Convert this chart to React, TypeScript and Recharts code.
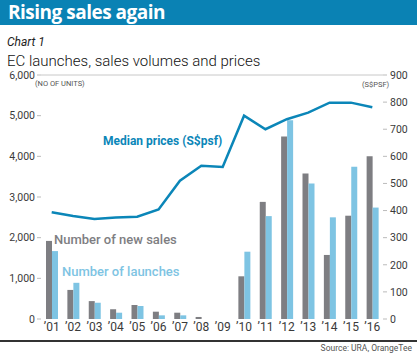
import React from "react"
import { ComposedChart, Bar, Line, XAxis, YAxis, ReferenceLine } from "recharts"

const years = ["’01", "’02", "’03", "’04", "’05", "’06", "’07", "’08", "’09", "’10", "’11", "’12", "’13", "’14", "’15", "’16"]
const newSales = [1920, 715, 440, 240, 345, 180, 155, 50, 0, 1050, 2880, 4490, 3580, 1575, 2540, 4000]
const launches = [1670, 890, 400, 155, 320, 90, 90, 0, 0, 1655, 2530, 4890, 3335, 2500, 3745, 2740]
const medianPrice = [394, 380, 369, 374, 377, 404, 510, 565, 561, 750, 700, 737, 761, 798, 798, 781]

const leftTicks = [0, 1000, 2000, 3000, 4000, 5000, 6000]
const rightTicks = [0, 100, 200, 300, 400, 500, 600, 700, 800, 900]

const data = years.map((y, i) => ({ year: y, sales: newSales[i], launches: launches[i], price: medianPrice[i] }))

const GRAY = "#7e7e82"
const LIGHT = "#7ec4e3"
const BLUE = "#0b86b8"
const FONT = "Roboto, 'Open Sans', sans-serif"

export default function App() {
  return (
    <div style={{ position: "absolute", left: 0, top: 0, width: 417, height: 354, background: "#fff", fontFamily: FONT, overflow: "hidden" }}>
      <div style={{ position: "absolute", left: 0, top: 0, width: 417, height: 25, background: "#0a82b4" }} />
      <div style={{ position: "absolute", left: 8, top: 0, height: 25, lineHeight: "25px", color: "#fff", fontSize: 19, fontWeight: 700, fontFamily: "'Open Sans', sans-serif", letterSpacing: -0.5 }}>Rising sales again</div>
      <div style={{ position: "absolute", left: 7, top: 35, fontSize: 12, lineHeight: "14px", fontStyle: "italic", color: "#222" }}>Chart 1</div>
      <div style={{ position: "absolute", left: 7, top: 54, fontSize: 15, lineHeight: "15px", fontWeight: 300, color: "#111" }}>EC launches, sales volumes and prices</div>

      <ComposedChart width={417} height={354} data={data} margin={{ top: 75, right: 0, bottom: 13, left: 0 }} barGap={0} style={{ position: "absolute", left: 0, top: 0 }}>
        <XAxis dataKey="year" axisLine={false} tickLine={false} tickSize={0} tickMargin={3} height={22} interval={0}
          tick={{ fontSize: 12, fill: "#3a3a3a", fontFamily: FONT }} />
        <YAxis yAxisId="left" orientation="left" width={41} domain={[0, 6000]} ticks={leftTicks} axisLine={false}
          tickLine={{ stroke: "#bbb" }} tickSize={4} tickMargin={2} interval={0}
          tickFormatter={(v: number) => v.toLocaleString("en-US")}
          tick={{ fontSize: 10.5, fill: "#3a3a3a", fontFamily: FONT }} />
        <YAxis yAxisId="right" orientation="right" width={34} domain={[0, 900]} ticks={rightTicks} axisLine={false}
          tickLine={{ stroke: "#bbb" }} tickSize={4} tickMargin={3} interval={0}
          tick={{ fontSize: 10.5, fill: "#3a3a3a", fontFamily: FONT, textAnchor: "start" }} />
        <ReferenceLine yAxisId="left" y={6000} stroke="#c8c8c8" strokeWidth={1} />
        <Bar yAxisId="left" dataKey="sales" fill={GRAY} barSize={6} isAnimationActive={false} />
        <Bar yAxisId="left" dataKey="launches" fill={LIGHT} barSize={6} isAnimationActive={false} />
        <Line yAxisId="right" dataKey="price" stroke={BLUE} strokeWidth={2.5} dot={false} type="linear" isAnimationActive={false} />
      </ComposedChart>

      <div style={{ position: "absolute", left: 35, top: 79, fontSize: 7.5, color: "#555" }}>(NO OF UNITS)</div>
      <div style={{ position: "absolute", left: 362, top: 80, fontSize: 7.5, color: "#555" }}>(S$PSF)</div>

      <div style={{ position: "absolute", left: 103, top: 134, fontSize: 12, fontWeight: 700, color: BLUE, whiteSpace: "nowrap" }}>Median prices (S$psf)</div>
      <div style={{ position: "absolute", left: 54, top: 232, fontSize: 13, fontWeight: 500, color: GRAY, whiteSpace: "nowrap" }}>Number of new sales</div>
      <div style={{ position: "absolute", left: 62, top: 264, fontSize: 13, fontWeight: 500, color: LIGHT, whiteSpace: "nowrap" }}>Number of launches</div>

      <div style={{ position: "absolute", left: 0, top: 340, width: 417, height: 2, background: "#333" }} />
      <div style={{ position: "absolute", right: 5, top: 343, fontSize: 8.5, color: "#555" }}>Source: URA, OrangeTee</div>
    </div>
  )
}
